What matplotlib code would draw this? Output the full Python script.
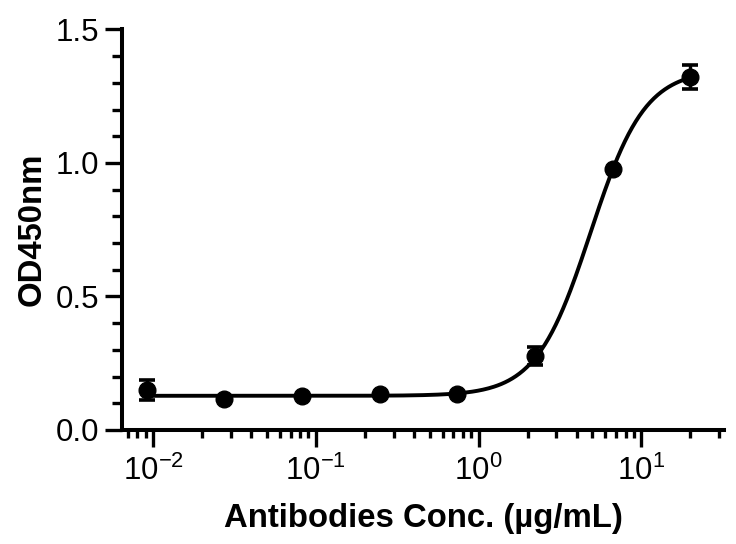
import numpy as np
import matplotlib
matplotlib.use('Agg')
import matplotlib.pyplot as plt
from matplotlib.ticker import LogLocator, MultipleLocator, NullFormatter, FormatStrFormatter

plt.rcParams['font.family'] = ['Liberation Sans', 'DejaVu Sans']
plt.rcParams['mathtext.fontset'] = 'custom'
plt.rcParams['mathtext.rm'] = 'Liberation Sans'
plt.rcParams['mathtext.it'] = 'Liberation Sans'
plt.rcParams['mathtext.bf'] = 'Liberation Sans:bold'

# measured points (3-fold dilution from 20 ug/mL)
conc = [0.00914, 0.0274, 0.0823, 0.247, 0.741, 2.22, 6.67, 20.0]
od450 = [0.150, 0.115, 0.127, 0.135, 0.133, 0.277, 0.977, 1.322]
od_err = [0.039, 0.0, 0.0, 0.0, 0.0, 0.034, 0.0, 0.044]

# 4PL fit parameters
fit_bottom = 0.128
fit_top = 1.35
fit_ec50 = 4.87
fit_hill = 2.6

fig = plt.figure(figsize=(7.36, 5.44), dpi=100)
ax = fig.add_axes([0.1658, 0.2096, 0.8185, 0.7362])

xs = np.logspace(np.log10(conc[0]), np.log10(conc[-1]), 300)
ys = fit_bottom + (fit_top - fit_bottom) / (1 + (fit_ec50 / xs) ** fit_hill)
ax.plot(xs, ys, color='black', lw=2.8, zorder=2)

ax.errorbar(conc, od450, yerr=od_err, fmt='o', color='black', ms=12,
            elinewidth=2.4, capsize=6, capthick=2.6, zorder=3)

ax.set_xscale('log')
ax.set_xlim(0.00644, 32.4)
ax.set_ylim(0, 1.5)

ax.set_xticks([0.01, 0.1, 1, 10])
ax.xaxis.set_minor_locator(LogLocator(base=10, subs=np.arange(2, 10), numticks=20))
ax.xaxis.set_minor_formatter(NullFormatter())
ax.yaxis.set_major_locator(MultipleLocator(0.5))
ax.yaxis.set_minor_locator(MultipleLocator(0.1))
ax.yaxis.set_major_formatter(FormatStrFormatter('%.1f'))

for s in ['top', 'right']:
    ax.spines[s].set_visible(False)
for s in ['left', 'bottom']:
    ax.spines[s].set_linewidth(2.9)

ax.tick_params(which='major', length=12.2, width=2.4, labelsize=22.5, pad=4)
ax.tick_params(axis='x', which='major', pad=6)
ax.tick_params(axis='y', which='minor', length=7.2, width=2.4)
ax.tick_params(axis='x', which='minor', length=6.0, width=2.4)

ax.set_xlabel('Antibodies Conc. (µg/mL)', fontsize=23.7, fontweight='bold', labelpad=12)
ax.set_ylabel('OD450nm', fontsize=23.7, fontweight='bold', labelpad=6)

fig.savefig('out.png', dpi=100)
